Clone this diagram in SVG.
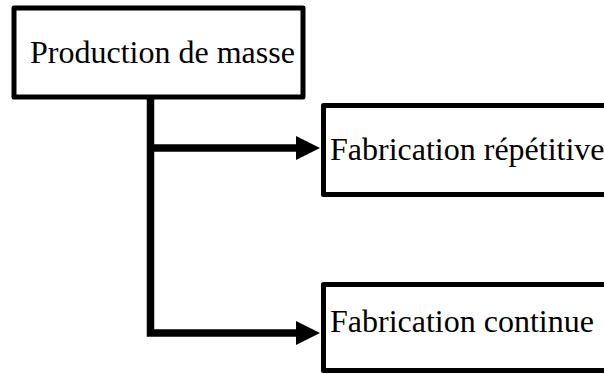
<svg xmlns="http://www.w3.org/2000/svg" width="604" height="374" viewBox="0 0 604 374">
<style>
.box{fill:#fff;stroke:#000;stroke-width:5;stroke-linejoin:round}
.lbl{font-family:"Liberation Serif","Times New Roman",serif;font-size:32px;fill:#000}
.con{fill:none;stroke:#000;stroke-width:7.5}
</style>
<g id="connectors">
<path class="con" d="M150.5,99 V333 H298"/>
<path class="con" d="M150.5,148 H298"/>
<polygon points="296,136 320,148 296,160" fill="#000"/>
<polygon points="296,321 320,333 296,345" fill="#000"/>
</g>
<g id="node-production">
<rect class="box" x="14" y="8" width="289" height="89"/>
<text class="lbl" x="30" y="63">Production de masse</text>
</g>
<g id="node-repetitive">
<rect class="box" x="323.5" y="105.5" width="300" height="89"/>
<text class="lbl" x="330" y="160">Fabrication répétitive</text>
</g>
<g id="node-continue">
<rect class="box" x="323.5" y="284.5" width="300" height="86"/>
<text class="lbl" x="330" y="332">Fabrication continue</text>
</g>
</svg>
